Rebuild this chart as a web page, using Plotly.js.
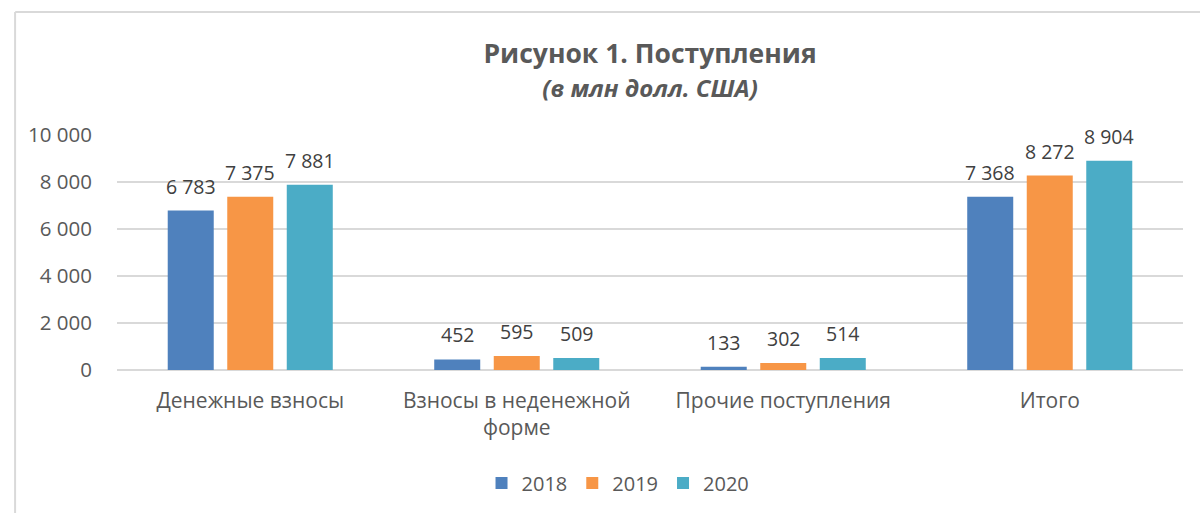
<!DOCTYPE html>
<html>
<head>
<meta charset="utf-8">
<script src="https://cdn.plot.ly/plotly-3.0.1.min.js"></script>
<style>
html,body{margin:0;padding:0;background:#fff;}
#chart{width:1200px;height:513px;}
</style>
</head>
<body>
<div id="chart"></div>
<script>
const categories = ["Денежные взносы", "Взносы в неденежной<br>форме", "Прочие поступления", "Итого"];
const years = ["2018", "2019", "2020"];
const values2018 = [6783, 452, 133, 7368];
const values2019 = [7375, 595, 302, 8272];
const values2020 = [7881, 509, 514, 8904];
const colors = ["#4f81bd", "#f79646", "#4bacc6"];

const series = [values2018, values2019, values2020];
const traces = series.map((vals, i) => ({
  type: 'bar',
  name: years[i],
  x: categories,
  y: vals,
  marker: {color: colors[i]},
  hoverinfo: 'skip'
}));

const fmt = v => String(v).replace(/\B(?=(\d{3})+(?!\d))/g, ' ');
const slotPx = 59.5;
const annotations = [];
series.forEach((vals, i) => {
  vals.forEach((v, j) => {
    annotations.push({
      x: categories[j], y: v, xref: 'x', yref: 'y',
      text: fmt(v), showarrow: false,
      xanchor: 'center', yanchor: 'bottom',
      xshift: (i - 1) * slotPx, yshift: 9,
      font: {family: 'Open Sans', size: 19.5, color: '#404040'}
    });
  });
});

const layout = {
  width: 1200, height: 513,
  paper_bgcolor: '#ffffff', plot_bgcolor: '#ffffff',
  separators: ', ',
  font: {family: 'Open Sans', color: '#595959'},
  margin: {l: 117, r: 17, t: 135, b: 142},
  title: {
    text: '<b>Рисунок 1. Поступления</b><br><span style="font-size:24px"><b><i>(в млн долл. США)</i></b></span>',
    font: {family: 'Open Sans', size: 26.5, color: '#595959'},
    x: 0.5417, xanchor: 'center', y: 0.878, yanchor: 'middle'
  },
  barmode: 'group',
  bargap: 0.33,
  bargroupgap: 0.227,
  xaxis: {
    type: 'category',
    tickfont: {family: 'Open Sans', size: 21, color: '#595959'},
    showline: false, ticks: '', showgrid: false, zeroline: false,
    ticklabelstandoff: 16
  },
  yaxis: {
    range: [0, 10000],
    dtick: 2000,
    tickformat: ',d',
    tickfont: {family: 'Open Sans', size: 20.5, color: '#595959'},
    gridcolor: '#d9d9d9', gridwidth: 1.3,
    zeroline: true, zerolinecolor: '#d9d9d9', zerolinewidth: 1.3,
    showline: false, ticks: '', ticklabelstandoff: 24
  },
  legend: {
    orientation: 'h', x: 0.47, xanchor: 'center', y: -0.475, yanchor: 'middle',
    font: {family: 'Open Sans', size: 20, color: '#595959'},
    itemwidth: 30
  },
  showlegend: true,
  annotations: annotations,
  shapes: [
    {type: 'line', xref: 'paper', yref: 'paper', x0: -0.0955, x1: 1.05, y0: 1.5237, y1: 1.5237, line: {color: '#d9d9d9', width: 2}},
    {type: 'line', xref: 'paper', yref: 'paper', x0: -0.0956, x1: -0.0956, y0: 1.5237, y1: -0.7, line: {color: '#d9d9d9', width: 2}}
  ]
};

Plotly.newPlot('chart', traces, layout, {displayModeBar: false, staticPlot: true});
</script>
</body>
</html>
